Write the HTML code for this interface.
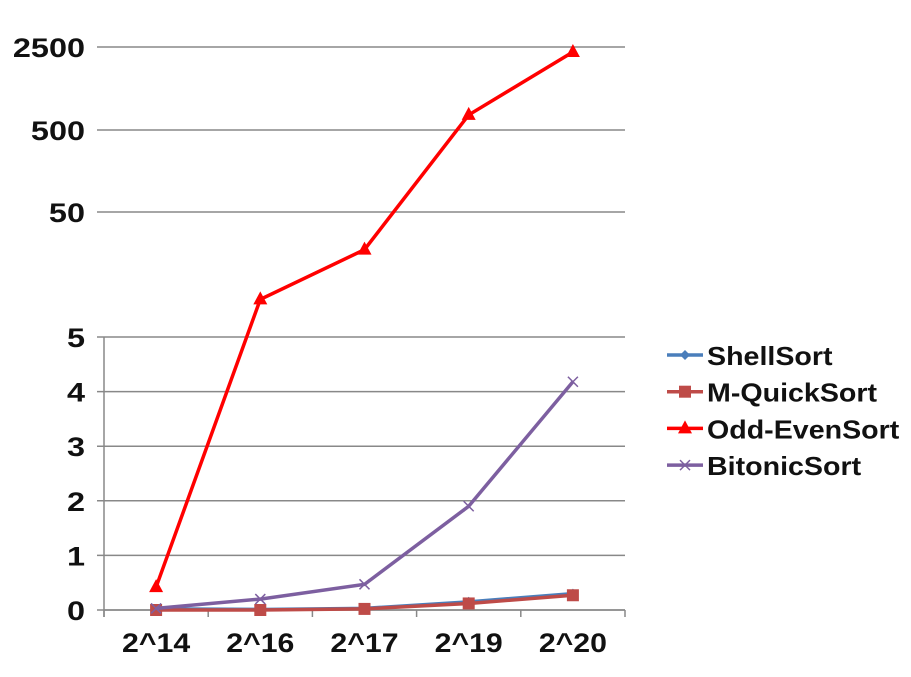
<!DOCTYPE html>
<html><head><meta charset="utf-8"><style>
body{margin:0;background:#fff;}
svg text{font-family:"Liberation Sans",sans-serif;font-weight:bold;fill:#111;}
</style></head><body>
<svg id="chart" width="911" height="672" xmlns="http://www.w3.org/2000/svg"></svg>
<script>
const categories=["2^14","2^16","2^17","2^19","2^20"];
const shellSort=[0.02,0.01,0.03,0.15,0.3];
const quickSort=[0.0,0.0,0.02,0.12,0.27];
const oddEvenSort=[0.42,10,25,670,2270];
const bitonicSort=[0.03,0.2,0.47,1.9,4.18];
const lowerTicks=[0,1,2,3,4,5];
const upperTicks=[50,500,2500];
const legendNames=["ShellSort","M-QuickSort","Odd-EvenSort","BitonicSort"];

const NS="http://www.w3.org/2000/svg";
const svg=document.getElementById("chart");
function mk(tag,attrs,parent){const e=document.createElementNS(NS,tag);for(const k in attrs)e.setAttribute(k,attrs[k]);(parent||svg).appendChild(e);return e;}
function widen(t,f){const w=t.getComputedTextLength();t.setAttribute("textLength",w*f);t.setAttribute("lengthAdjust","spacingAndGlyphs");}
const x0=104,x1=625,base=610,unit=54.6;
const bw=(x1-x0)/categories.length;
function xs(i){return x0+bw*(i+0.5);}
const breakVals=[5,50,500,2500], breakPix=[base-5*unit,212,130,47];
function ys(v){
  if(v<=5)return base-v*unit;
  for(let k=0;k<breakVals.length-1;k++){
    if(v<=breakVals[k+1]||k===breakVals.length-2){
      const f=(Math.log(v)-Math.log(breakVals[k]))/(Math.log(breakVals[k+1])-Math.log(breakVals[k]));
      return breakPix[k]+f*(breakPix[k+1]-breakPix[k]);
    }
  }
}
lowerTicks.concat(upperTicks).forEach(t=>{
  const g=mk("line",{x1:97,x2:x1,y1:ys(t),y2:ys(t),stroke:"#888","stroke-width":1.5});
  
  
  const l=mk("text",{x:85,y:ys(t)+10,"font-size":27,"text-anchor":"end"});l.textContent=t;
  
  
  widen(l,1.2);
});
const ax=mk("line",{x1:x0,x2:x0,y1:ys(5),y2:base+7,stroke:"#888","stroke-width":1.5});


const bx=mk("line",{x1:x0,x2:x1,y1:base,y2:base,stroke:"#888","stroke-width":1.5});


for(let i=0;i<=categories.length;i++){
  const tk=mk("line",{x1:x0+bw*i,x2:x0+bw*i,y1:base,y2:base+7,stroke:"#888","stroke-width":1.5});
  
  
}
categories.forEach((c,i)=>{
  const l=mk("text",{x:xs(i),y:base+42,"font-size":27,"text-anchor":"middle"});l.textContent=c;
  
  
  widen(l,1.12);
});
function marker(type,x,y,color,parent){
  if(type==="diamond")return mk("path",{d:`M${x} ${y-5}L${x+5} ${y}L${x} ${y+5}L${x-5} ${y}Z`,fill:color},parent);
  if(type==="square")return mk("rect",{x:x-6,y:y-6,width:12,height:12,fill:color},parent);
  if(type==="triangle")return mk("path",{d:`M${x} ${y-8}L${x+7} ${y+5}L${x-7} ${y+5}Z`,fill:color},parent);
  return mk("path",{d:`M${x-5} ${y-5}L${x+5} ${y+5}M${x+5} ${y-5}L${x-5} ${y+5}`,stroke:color,"stroke-width":1.5,fill:"none"},parent);
}
const series=[
  {name:"shell-sort",vals:shellSort,color:"#4a7ebb",m:"diamond"},
  {name:"quick-sort",vals:quickSort,color:"#be4b48",m:"square"},
  {name:"bitonic-sort",vals:bitonicSort,color:"#7d5fa0",m:"x"},
  {name:"odd-even-sort",vals:oddEvenSort,color:"#ff0000",m:"triangle"}
];
series.forEach(s=>{
  const g=mk("g",{});
  
  
  const pl=mk("polyline",{points:s.vals.map((v,i)=>xs(i)+","+ys(v)).join(" "),fill:"none",stroke:s.color,"stroke-width":3.5},g);
  
  
  s.vals.forEach((v,i)=>{
    const p=marker(s.m,xs(i),ys(v),s.color,g);
    
    
  });
});
const legColors=["#4a7ebb","#be4b48","#ff0000","#7d5fa0"],legMarks=["diamond","square","triangle","x"];
legendNames.forEach((n,i)=>{
  const y=355+i*36.7;
  const g=mk("g",{});
  
  
  mk("line",{x1:667,x2:703,y1:y,y2:y,stroke:legColors[i],"stroke-width":3.5},g);
  marker(legMarks[i],685,y,legColors[i],g);
  const t=mk("text",{x:707,y:y+10,"font-size":26},g);t.textContent=n;
  widen(t,1.1);
});
</script>
</body></html>
